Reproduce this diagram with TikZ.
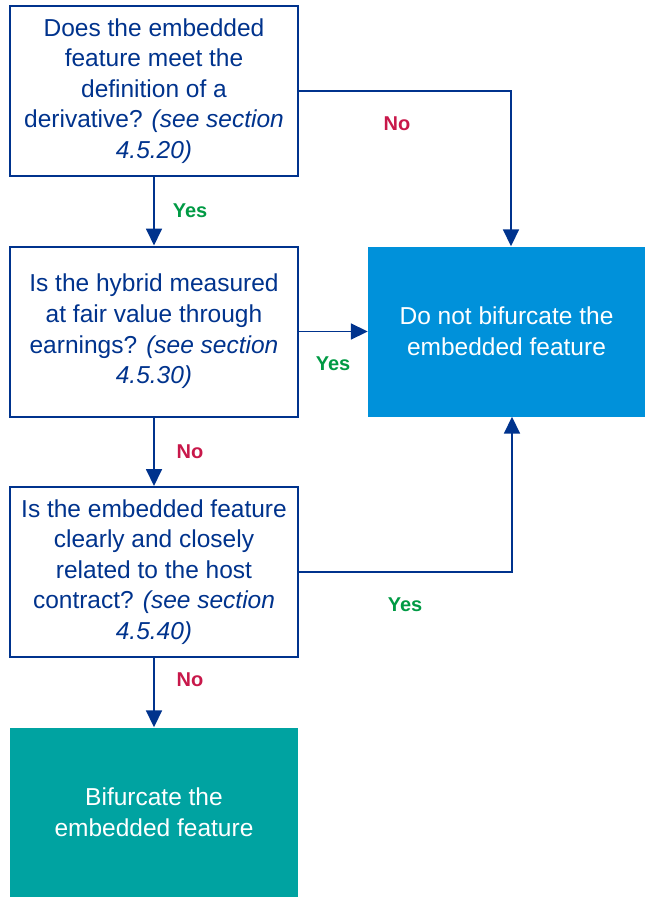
\documentclass[tikz,border=0pt]{standalone}
\usepackage{fontspec}
\setmainfont{Liberation Sans}
\usetikzlibrary{arrows.meta}
\definecolor{kdark}{HTML}{00338D}
\definecolor{kblue}{HTML}{0091DA}
\definecolor{kteal}{HTML}{00A3A1}
\definecolor{kred}{HTML}{C8184A}
\definecolor{kgreen}{HTML}{009A44}
\tikzset{
  qbox/.style={draw=kdark, line width=2pt, fill=white, text=kdark, align=center,
    minimum width=288pt, minimum height=170pt, inner sep=0pt,
    font=\fontsize{24.5}{30.6}\selectfont},
  abox/.style={fill=#1, text=white, align=center, inner sep=0pt,
    minimum height=170pt, font=\fontsize{24.5}{30.6}\selectfont},
  arr/.style={draw=kdark, line width=1.8pt, -{Triangle[length=17pt,width=16pt]}},
  yeslbl/.style={text=kgreen, font=\fontsize{20}{24}\selectfont\bfseries},
  nolbl/.style={text=kred, font=\fontsize{20}{24}\selectfont\bfseries}
}
\begin{document}
\begin{tikzpicture}[x=1pt,y=-1pt]
\useasboundingbox (0,0) rectangle (645,897);
\node[qbox] (q1) at (154,91) {Does the embedded\\feature meet the\\definition of a\\derivative? \textit{(see section}\\\textit{4.5.20)}};
\node[qbox] (q2) at (154,331.5) {Is the hybrid measured\\at fair value through\\earnings? \textit{(see section}\\\textit{4.5.30)}};
\node[qbox] (q3) at (154,572) {Is the embedded feature\\clearly and closely\\related to the host\\contract? \textit{(see section}\\\textit{4.5.40)}};
\node[abox=kblue, minimum width=277pt] (nobif) at (506.5,331.5) {Do not bifurcate the\\embedded feature};
\node[abox=kteal, minimum width=288pt] (bif) at (154,812.5) {Bifurcate the\\embedded feature};

\draw[arr] (q1.south) -- (q2.north);
\draw[arr] (q2.south) -- (q3.north);
\draw[arr] (q3.south) -- (bif.north);
\draw[arr] (q2.east) -- (nobif.west);
\draw[arr] (q1.east) -| ([xshift=4.5pt]nobif.north);
\draw[arr] (q3.east) -| ([xshift=5.5pt]nobif.south);

\node[yeslbl] (y1) at (190,211) {Yes};
\node[nolbl] (n1) at (397,124) {No};
\node[yeslbl] (y2) at (333,364) {Yes};
\node[nolbl] (n2) at (190,452) {No};
\node[yeslbl] (y3) at (405,605) {Yes};
\node[nolbl] (n3) at (190,680) {No};
\end{tikzpicture}
\end{document}
